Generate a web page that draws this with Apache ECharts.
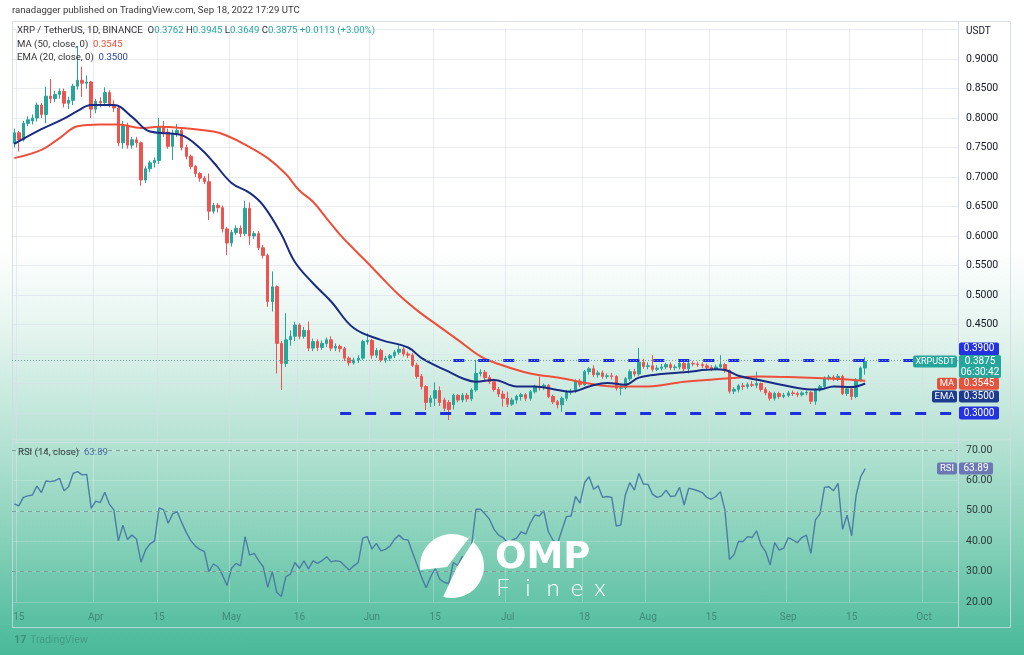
<!DOCTYPE html>
<html><head><meta charset="utf-8">
<script src="https://cdn.jsdelivr.net/npm/echarts@6.0.0/dist/echarts.min.js"></script>
<style>
html,body{margin:0;padding:0;width:1024px;height:655px;overflow:hidden;}
body{background:linear-gradient(to bottom,#ffffff 0%,#ffffff 38%,#e6f5ef 50%,#bfe6d9 64%,#8fd4be 80%,#48b999 100%);}
#c{width:1024px;height:655px;}
</style></head><body><div id="c"></div>
<script>
// ---- axis domain ----
const firstDay = '2022-03-14';
const dayCount = 209;
const tickDates = ['2022-03-15','2022-04-01','2022-04-15','2022-05-01','2022-05-16','2022-06-01','2022-06-15','2022-07-01','2022-07-18','2022-08-01','2022-08-15','2022-09-01','2022-09-15','2022-10-01'];
const tickTexts = ['15','Apr','15','May','16','Jun','15','Jul','18','Aug','15','Sep','15','Oct'];

// ---- XRP/USDT daily candles (Mar 14 – Sep 18, 2022) ----
const opens = [
.757,.775,.763,.791,.795,.800,.822,.806,.837,.833,
.840,.845,.825,.830,.854,.864,.859,.861,.815,.828,
.826,.843,.822,.817,.758,.788,.754,.763,.758,.695,
.714,.724,.728,.785,.776,.752,.774,.779,.750,.735,
.718,.706,.698,.692,.642,.652,.648,.612,.588,.606,
.613,.604,.647,.600,.604,.580,.567,.489,.514,.418,
.384,.424,.430,.449,.430,.440,.410,.421,.411,.418,
.424,.410,.413,.409,.393,.385,.390,.393,.421,.423,
.398,.406,.390,.393,.397,.403,.408,.400,.398,.381,
.362,.345,.318,.325,.338,.322,.318,.314,.330,.322,
.330,.324,.339,.367,.369,.360,.353,.340,.332,.325,
.315,.322,.328,.331,.325,.336,.345,.343,.347,.328,
.319,.314,.325,.336,.337,.354,.348,.370,.375,.365,
.368,.362,.363,.362,.342,.343,.358,.370,.366,.386,
.379,.380,.374,.376,.378,.382,.377,.378,.384,.375,
.384,.383,.382,.380,.377,.375,.378,.382,.372,.337,
.340,.346,.345,.348,.347,.350,.340,.334,.325,.333,
.328,.330,.334,.333,.331,.334,.335,.320,.339,.345,
.359,.361,.358,.362,.333,.341,.328,.356,.3762];
const closes = [
.775,.763,.791,.797,.800,.822,.806,.837,.833,.840,
.845,.825,.830,.854,.864,.859,.861,.815,.828,.826,
.843,.822,.817,.758,.788,.754,.763,.758,.695,.714,
.724,.728,.785,.776,.752,.774,.779,.750,.735,.718,
.706,.698,.692,.642,.652,.648,.612,.588,.606,.613,
.604,.647,.600,.604,.580,.567,.489,.514,.418,.384,
.424,.430,.449,.430,.440,.410,.421,.411,.418,.424,
.410,.413,.409,.393,.385,.390,.393,.421,.423,.398,
.406,.390,.393,.397,.403,.408,.400,.398,.381,.362,
.345,.318,.325,.338,.318,.308,.306,.330,.322,.330,
.324,.339,.367,.369,.360,.353,.340,.332,.325,.315,
.322,.328,.331,.325,.336,.345,.343,.347,.328,.319,
.314,.325,.336,.337,.354,.348,.370,.375,.365,.368,
.362,.363,.362,.342,.343,.358,.370,.366,.386,.379,
.380,.374,.376,.378,.382,.377,.378,.384,.375,.384,
.383,.382,.380,.377,.375,.378,.382,.372,.337,.340,
.346,.345,.348,.347,.350,.340,.334,.325,.333,.328,
.330,.334,.333,.331,.334,.335,.320,.339,.345,.359,
.361,.358,.362,.333,.341,.328,.356,.3762,.3875];
const lows = [
.750,.743,.760,.786,.789,.794,.800,.791,.825,.827,
.833,.818,.815,.822,.848,.836,.850,.800,.808,.818,
.820,.818,.810,.752,.748,.748,.748,.750,.685,.690,
.708,.716,.722,.768,.748,.729,.768,.745,.730,.713,
.700,.692,.688,.627,.638,.640,.606,.568,.582,.602,
.598,.600,.585,.595,.576,.562,.480,.472,.367,.339,
.378,.414,.422,.425,.426,.405,.405,.405,.407,.412,
.405,.405,.403,.388,.380,.382,.385,.390,.416,.392,
.393,.386,.385,.388,.393,.399,.396,.393,.378,.358,
.340,.305,.310,.312,.312,.303,.288,.306,.318,.318,
.319,.320,.336,.362,.355,.349,.336,.327,.311,.310,
.312,.316,.321,.320,.321,.333,.338,.339,.325,.315,
.308,.302,.320,.331,.334,.344,.346,.365,.361,.360,
.358,.358,.357,.338,.330,.340,.354,.362,.363,.375,
.374,.370,.371,.372,.374,.373,.372,.374,.371,.367,
.379,.378,.376,.373,.371,.372,.376,.368,.333,.332,
.335,.339,.341,.344,.342,.336,.330,.321,.321,.324,
.325,.327,.329,.327,.328,.330,.315,.314,.336,.342,
.355,.354,.354,.330,.329,.322,.325,.353,.3649];
const highs = [
.782,.778,.795,.803,.806,.826,.825,.853,.866,.846,
.850,.850,.836,.858,.922,.887,.872,.863,.832,.835,
.852,.847,.830,.820,.795,.792,.768,.768,.760,.718,
.728,.733,.800,.795,.782,.780,.790,.782,.755,.738,
.720,.708,.702,.706,.656,.656,.652,.615,.610,.618,
.618,.660,.657,.608,.608,.585,.570,.540,.516,.422,
.469,.440,.454,.452,.446,.455,.426,.425,.423,.428,
.430,.418,.416,.412,.396,.394,.398,.424,.435,.426,
.410,.409,.397,.400,.407,.415,.412,.404,.402,.385,
.366,.347,.330,.352,.345,.326,.322,.333,.332,.334,
.334,.342,.390,.374,.373,.364,.358,.344,.338,.336,
.326,.331,.334,.334,.339,.348,.362,.350,.349,.331,
.322,.328,.339,.341,.357,.358,.373,.378,.381,.372,
.372,.367,.368,.364,.348,.361,.374,.375,.410,.392,
.386,.398,.381,.383,.385,.386,.382,.388,.387,.387,
.388,.387,.386,.384,.381,.382,.398,.385,.374,.344,
.349,.351,.352,.354,.370,.352,.344,.337,.336,.336,
.334,.337,.338,.336,.337,.338,.337,.342,.348,.362,
.365,.364,.366,.365,.345,.346,.359,.379,.3945];

// ---- indicator lines: [day index, value] ----
const ma50Points = [[0,.732],[6,.746],[10,.766],[14,.786],[19,.789],[23,.789],[28,.783],[32,.785],[37,.783],[44,.777],[47,.770],[51,.755],[56,.732],[60,.705],[63,.677],[66,.658],[69,.630],[72,.602],[75,.578],[78,.555],[81,.531],[85,.500],[89,.474],[94,.446],[98,.424],[103,.396],[107,.383],[114,.367],[121,.359],[127,.350],[133,.345],[140,.345],[148,.353],[155,.357],[158,.359],[165,.362],[174,.360],[181,.358],[188,.3545]];
const ema20Points = [[0,.756],[6,.781],[11,.799],[14,.812],[17,.822],[22,.822],[26,.802],[30,.777],[34,.774],[37,.771],[41,.749],[44,.725],[48,.690],[52,.673],[55,.652],[59,.603],[62,.556],[66,.520],[70,.489],[75,.444],[81,.424],[87,.411],[90,.393],[94,.377],[96,.370],[99,.359],[102,.353],[106,.356],[111,.345],[115,.345],[120,.339],[123,.336],[127,.345],[131,.351],[135,.348],[138,.360],[143,.366],[148,.369],[155,.374],[157,.373],[160,.363],[165,.355],[170,.347],[176,.340],[178,.340],[181,.345],[185,.344],[188,.350]];

// ---- RSI(14) ----
const rsiValues = [
52.3,51.6,54.4,54.9,55.2,58.1,56.0,59.8,59.6,59.9,
60.7,56.6,57.9,62.3,62.9,61.8,62.0,50.8,53.2,52.7,
56.1,52.2,50.3,40.1,45.3,40.6,42.0,40.7,33.1,37.1,
39.1,40.1,51.0,50.3,45.9,49.0,49.7,46.1,42.9,40.2,
38.4,37.3,36.6,30.0,32.5,31.6,28.9,25.4,31.1,32.7,
31.9,41.5,35.4,36.0,33.6,31.6,24.8,30.0,23.2,21.8,
28.3,29.2,33.0,31.1,33.5,30.9,33.5,32.7,33.6,34.9,
33.2,33.6,33.3,31.9,30.5,31.9,33.0,41.0,41.5,37.4,
39.3,36.8,37.3,38.4,40.6,42.0,40.6,40.4,36.2,32.2,
28.1,24.7,28.3,31.1,27.5,26.5,26.0,33.0,32.0,35.0,
33.5,38.0,50.5,50.5,49.0,47.2,43.9,42.0,41.2,39.4,
40.4,41.0,43.1,42.3,45.9,48.6,48.3,50.0,43.1,40.4,
39.1,43.7,48.1,48.3,54.7,52.5,59.3,61.2,57.1,58.2,
54.4,54.7,54.4,45.0,45.3,55.2,59.3,56.8,62.3,58.8,
58.7,55.5,54.4,54.9,56.8,54.7,54.9,57.7,51.9,57.4,
57.1,56.6,56.0,54.4,53.8,54.7,56.3,50.3,34.0,35.5,
39.9,39.9,41.5,41.2,43.4,38.7,36.6,32.2,39.5,37.1,
37.7,41.2,40.4,39.5,41.2,42.0,36.0,47.0,49.0,57.7,
57.9,56.6,59.0,43.9,48.6,41.8,55.2,61.2,63.89];
const rsiBands = [70, 50, 30];

// ---- horizontal levels ----
const levelLow = 0.30, levelLowStart = '2022-05-25';
const levelHigh = 0.39, levelHighStart = '2022-06-19';
const countdown = '06:30:42';

// build category list
const categories = [];
(function(){ const t0 = Date.parse(firstDay + 'T00:00:00Z'); for (let k = 0; k < dayCount; k++) categories.push(new Date(t0 + k * 86400000).toISOString().slice(0, 10)); })();
const lastCat = categories[categories.length - 1];
const candles = opens.map((o, k) => [o, closes[k], lows[k], highs[k]]);
const last = opens.length - 1;
const lastClose = closes[last];
const maLast = ma50Points[ma50Points.length - 1][1];
const emaLast = ema20Points[ema20Points.length - 1][1];
const rsiLast = rsiValues[rsiValues.length - 1];
const isTick = (idx, val) => tickDates.indexOf(val) >= 0;
const FONT = 'Roboto, "Noto Sans", sans-serif';

const UP = '#26a69a', DOWN = '#ef5350', BLUE = '#1f2de0';

const option = {
  animation: false,
  backgroundColor: 'transparent',
  grid: [
    {left: 12, right: 66, top: 29.5, height: 413, outerBoundsMode: 'none', containLabel: false},
    {left: 12, right: 66, top: 450, height: 152, outerBoundsMode: 'none', containLabel: false}
  ],
  xAxis: [
    {type: 'category', gridIndex: 0, data: categories, boundaryGap: true,
     axisLine: {show: false}, axisTick: {show: false}, axisLabel: {show: false},
     splitLine: {show: true, interval: isTick, lineStyle: {color: 'rgba(215,222,234,0.55)', width: 1}}},
    {type: 'category', gridIndex: 1, data: categories, boundaryGap: true,
     axisLine: {show: false}, axisTick: {show: false},
     axisLabel: {show: true, interval: isTick, hideOverlap: false,
       formatter: v => { const p = tickDates.indexOf(v); return p >= 0 ? tickTexts[p] : ''; },
       color: '#3f8a7a', fontSize: 10, fontFamily: FONT, margin: 10},
     splitLine: {show: true, interval: isTick, lineStyle: {color: 'rgba(255,255,255,0.25)', width: 1}}}
  ],
  yAxis: [
    {type: 'value', gridIndex: 0, position: 'right', min: 0.25, max: 0.95, interval: 0.05,
     axisLine: {show: false}, axisTick: {show: false},
     axisLabel: {formatter: v => (v > 0.42 && v < 0.91) ? v.toFixed(4) : '', color: '#131722', fontSize: 10.5, fontFamily: FONT, margin: 8},
     splitLine: {show: true, lineStyle: {color: 'rgba(215,222,234,0.55)', width: 1}}},
    {type: 'value', gridIndex: 1, position: 'right', min: 20, max: 70, interval: 10,
     axisLine: {show: false}, axisTick: {show: false},
     axisLabel: {formatter: v => v.toFixed(2), color: '#2c3a38', fontSize: 10.5, fontFamily: FONT, margin: 8},
     splitLine: {show: true, lineStyle: {color: 'rgba(255,255,255,0.2)', width: 1}}}
  ],
  series: [
    {type: 'candlestick', name: 'XRPUSDT', xAxisIndex: 0, yAxisIndex: 0, data: candles, barWidth: '66%',
     itemStyle: {color: UP, color0: DOWN, borderColor: UP, borderColor0: DOWN, borderWidth: 1},
     markLine: {symbol: 'none', silent: true, animation: false, label: {show: false},
       lineStyle: {color: BLUE, width: 3, type: [11, 14]},
       data: [
         [{coord: [levelLowStart, levelLow]}, {coord: [lastCat, levelLow]}],
         [{coord: [levelHighStart, levelHigh]}, {coord: [lastCat, levelHigh]}],
         {yAxis: lastClose, lineStyle: {color: '#6f9f98', width: 1, type: [1, 2]}}
       ]}
    },
    {type: 'line', name: 'MA', xAxisIndex: 0, yAxisIndex: 0, data: ma50Points, smooth: 0.4, showSymbol: false, symbol: 'none',
     lineStyle: {color: '#ee4f3b', width: 2}, z: 3},
    {type: 'line', name: 'EMA', xAxisIndex: 0, yAxisIndex: 0, data: ema20Points, smooth: 0.4, showSymbol: false, symbol: 'none',
     lineStyle: {color: '#1a2b84', width: 2}, z: 4},
    {type: 'line', name: 'RSI', xAxisIndex: 1, yAxisIndex: 1, data: rsiValues, showSymbol: false, symbol: 'none',
     lineStyle: {color: '#4a7ea6', width: 1.4},
     markLine: {symbol: 'none', silent: true, animation: false, label: {show: false},
       lineStyle: {color: '#7d9f97', width: 1, type: [4, 4]},
       data: rsiBands.map(b => ({yAxis: b}))}
    }
  ]
};

const chart = echarts.init(document.getElementById('c'));
chart.setOption(option);

function txt(x, y, text, fill, size, extra) {
  return {type: 'text', x: x, y: y, z: 50,
    style: Object.assign({text: text, fill: fill, font: (size || 11) + 'px ' + FONT, textAlign: 'left', verticalAlign: 'middle', textVerticalAlign: 'middle'}, extra || {})};
}
function box(x, yc, w, h, bg) {
  return {type: 'rect', z: 60, shape: {x: x, y: yc - h / 2, width: w, height: h, r: 2}, style: {fill: bg}};
}
function boxText(x, y, text, size) {
  return {type: 'text', x: x, y: y, z: 61, style: {text: text, fill: '#ffffff', font: (size || 10) + 'px ' + FONT, textAlign: 'center', verticalAlign: 'middle', textVerticalAlign: 'middle'}};
}
// logo geometry helper: points along a circle arc (degrees, screen coords)
function arcPts(cx, cy, r, a0, a1, step) {
  const pts = [];
  const n = Math.max(2, Math.ceil(Math.abs(a1 - a0) / step));
  for (let k = 0; k <= n; k++) { const a = (a0 + (a1 - a0) * k / n) * Math.PI / 180; pts.push([cx + r * Math.cos(a), cy + r * Math.sin(a)]); }
  return pts;
}

const py0 = v => chart.convertToPixel({yAxisIndex: 0}, v);
const py1 = v => chart.convertToPixel({yAxisIndex: 1}, v);

const g = [];
// frame & separators
g.push({type: 'rect', z: 1, shape: {x: 12.5, y: 21.5, width: 998, height: 606}, style: {fill: 'none', stroke: 'rgba(210,216,226,0.8)', lineWidth: 1}});
g.push({type: 'line', z: 1, shape: {x1: 958.5, y1: 21.5, x2: 958.5, y2: 627.5}, style: {stroke: 'rgba(210,216,226,0.8)', lineWidth: 1}});
g.push({type: 'line', z: 1, shape: {x1: 12.5, y1: 439.5, x2: 1010.5, y2: 439.5}, style: {stroke: 'rgba(200,225,216,0.9)', lineWidth: 2}});
// header
const FS = 9.6;
g.push(txt(12, 11, 'ranadagger published on TradingView.com, Sep 18, 2022 17:29 UTC', '#3a3a3a', FS));
g.push(txt(17, 31, 'XRP / TetherUS, 1D, BINANCE  O{v|' + opens[last].toFixed(4) + '} H{v|' + highs[last].toFixed(4) + '} L{v|' + lows[last].toFixed(4) + '} C{v|' + lastClose.toFixed(4) + '} {v|+' + (lastClose - opens[last]).toFixed(4) + ' (+3.00%)}', '#333', FS,
  {rich: {v: {fill: UP, font: FS + 'px ' + FONT}}}));
g.push(txt(17, 45, 'MA (50, close, 0)  {v|' + maLast.toFixed(4) + '}', '#333', FS, {rich: {v: {fill: '#ee4f3b', font: FS + 'px ' + FONT}}}));
g.push(txt(17, 58, 'EMA (20, close, 0)  {v|' + emaLast.toFixed(4) + '}', '#333', FS, {rich: {v: {fill: '#2a45a0', font: FS + 'px ' + FONT}}}));
g.push(txt(966, 31, 'USDT', '#131722', 10));
g.push(txt(18, 453, 'RSI (14, close)  {v|' + rsiLast.toFixed(2) + '}', '#2f3b3a', FS, {rich: {v: {fill: '#4f70a8', font: FS + 'px ' + FONT}}}));
g.push(txt(30, 640, 'TradingView', 'rgba(60,130,115,0.55)', 10.5));
g.push(txt(14, 640, '17', 'rgba(40,110,95,0.55)', 11, {font: 'bold 11px ' + FONT}));

// axis value boxes
const VX = 959, VW = 40;
const yHi = py0(levelHigh) - 11;
g.push(box(VX, yHi, VW, 13, '#2433e0')); g.push(boxText(VX + VW / 2, yHi, levelHigh.toFixed(4)));
const yC = py0(lastClose);
g.push({type: 'rect', z: 60, shape: {x: VX, y: yC - 6.5, width: VW + 2, height: 23, r: 2}, style: {fill: UP}});
g.push(boxText(VX + (VW + 2) / 2, yC, lastClose.toFixed(4)));
g.push(boxText(VX + (VW + 2) / 2, yC + 11, countdown));
g.push(box(913, yC, 44, 12, UP)); g.push(boxText(935, yC, 'XRPUSDT', 9));
const yMa = py0(maLast) + 3;
g.push(box(VX, yMa, VW, 12, '#e5533d')); g.push(boxText(VX + VW / 2, yMa, maLast.toFixed(4)));
g.push(box(937, yMa, 20, 12, '#e5533d')); g.push(boxText(947, yMa, 'MA', 9.5));
const yEma = py0(emaLast) + 13;
g.push(box(VX, yEma, VW, 12, '#1d3c8f')); g.push(boxText(VX + VW / 2, yEma, emaLast.toFixed(4)));
g.push(box(932, yEma, 25, 12, '#1d3c8f')); g.push(boxText(944.5, yEma, 'EMA', 9.5));
const yLo = py0(levelLow);
g.push(box(VX, yLo, VW, 13, '#2433e0')); g.push(boxText(VX + VW / 2, yLo, levelLow.toFixed(4)));
const yR = py1(rsiLast);
g.push(box(VX, yR, 34, 12, '#6b78b3')); g.push(boxText(VX + 17, yR, rsiLast.toFixed(2)));
g.push(box(937, yR, 20, 12, '#6b78b3')); g.push(boxText(947, yR, 'RSI', 9.5));

// watermark logo (two white pieces of a split circle)
const LCX = 452, LCY = 566, LR = 32;
const leftPiece = arcPts(LCX, LCY, LR, -60, -187, 5).concat([[447, 567], [471, 535]]);
const rightPiece = arcPts(LCX, LCY, LR, -48, 106, 5).concat([[457, 567], [476, 537]]);
g.push({type: 'polygon', z: 90, shape: {points: leftPiece}, style: {fill: '#ffffff'}});
g.push({type: 'polygon', z: 90, shape: {points: rightPiece}, style: {fill: '#ffffff'}});
g.push({type: 'text', z: 92, x: 495, y: 558, style: {text: 'OMP', fill: '#ffffff', font: 'bold 37px "DejaVu Sans", sans-serif', textAlign: 'left', verticalAlign: 'middle', textVerticalAlign: 'middle'}});
const finex = ['F', 'i', 'n', 'e', 'x'];
const finexX = [503, 528, 553, 577, 600];
finex.forEach((ch, k) => g.push({type: 'text', z: 92, x: finexX[k], y: 588, style: {text: ch, fill: '#ffffff', font: '300 24px Lato, "Open Sans", sans-serif', textAlign: 'center', verticalAlign: 'middle', textVerticalAlign: 'middle'}}));

chart.setOption({graphic: g});
</script>
</body></html>
